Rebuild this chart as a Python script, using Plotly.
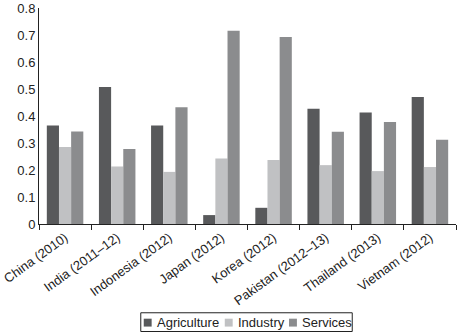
import plotly.graph_objects as go

categories = ["China (2010)", "India (2011–12)", "Indonesia (2012)", "Japan (2012)",
              "Korea (2012)", "Pakistan (2012–13)", "Thailand (2013)", "Vietnam (2012)"]
agriculture = [0.365, 0.507, 0.365, 0.033, 0.060, 0.427, 0.413, 0.470]
industry = [0.285, 0.213, 0.193, 0.243, 0.237, 0.218, 0.196, 0.211]
services = [0.343, 0.278, 0.432, 0.716, 0.693, 0.342, 0.378, 0.312]
y_ticks = [0, 0.1, 0.2, 0.3, 0.4, 0.5, 0.6, 0.7, 0.8]
series_names = ["Agriculture", "Industry", "Services"]
series_colors = ["#58595b", "#c0c1c3", "#8b8c8e"]

W, H = 457, 334
L, R, T, B = 34, 1, 5, 110
pw, ph = W - L - R, H - T - B


def px_x(x):
    return (x - L) / pw


def px_y(y):
    return (H - B - y) / ph


fig = go.Figure()
for name, vals, col in zip(series_names, [agriculture, industry, services], series_colors):
    fig.add_bar(name=name, x=categories, y=vals, marker_color=col, marker_line_width=0)

# manual compact legend (boxed, bottom centre)
shapes = [dict(type="rect", xref="paper", yref="paper",
               x0=px_x(137), x1=px_x(351), y0=px_y(333), y1=px_y(314),
               line=dict(color="#222", width=1), fillcolor="white")]
annotations = []
sq_x = [140, 222, 287]
for name, col, sx in zip(series_names, series_colors, sq_x):
    shapes.append(dict(type="rect", xref="paper", yref="paper",
                       x0=px_x(sx), x1=px_x(sx + 8), y0=px_y(328), y1=px_y(320),
                       line=dict(width=0), fillcolor=col))
    annotations.append(dict(xref="paper", yref="paper", x=px_x(sx + 11), y=px_y(324),
                            text=name, showarrow=False, xanchor="left", yanchor="middle",
                            font=dict(size=13, color="#222")))

fig.update_layout(
    width=W, height=H,
    margin=dict(l=L, r=R, t=T, b=B),
    plot_bgcolor="white", paper_bgcolor="white",
    barmode="group", bargap=0.30, bargroupgap=0,
    font=dict(family="Liberation Sans, Arial, sans-serif", size=13, color="#222"),
    showlegend=False,
    shapes=shapes, annotations=annotations,
)
fig.update_xaxes(showline=True, linecolor="#222", linewidth=1, ticks="outside",
                 tickson="boundaries", ticklen=5, tickcolor="#222", tickangle=-36,
                 tickfont=dict(size=13), showgrid=False)
fig.update_yaxes(range=[0, 0.8], tickvals=y_ticks, ticktext=[f"{v:g}" for v in y_ticks],
                 showline=True, linecolor="#222", linewidth=1, showgrid=False,
                 zeroline=False, ticks="", tickfont=dict(size=13),
                 ticklabeloverflow="allow")

fig.write_html("out.html")
